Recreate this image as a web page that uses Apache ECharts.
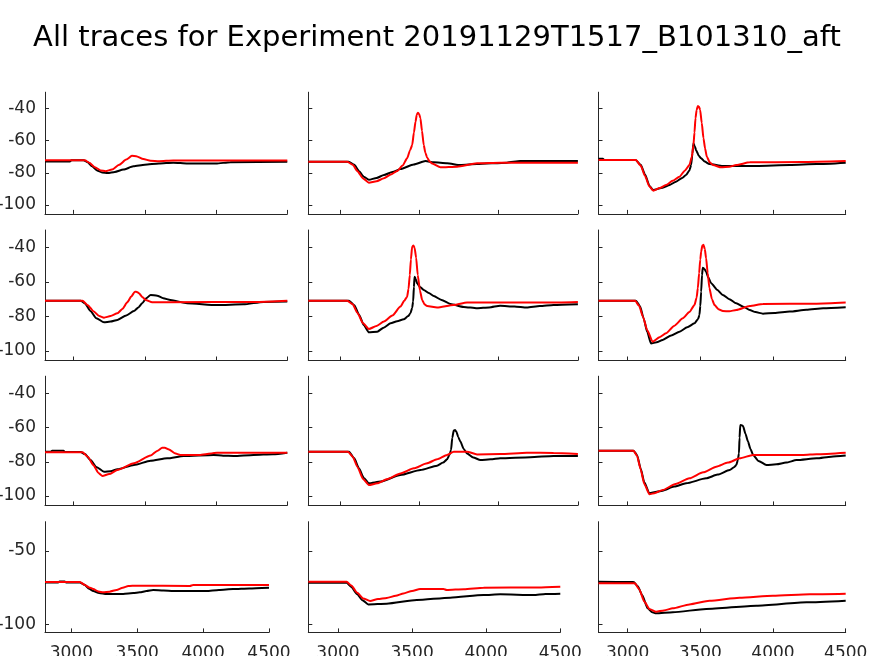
<!DOCTYPE html>
<html>
<head>
<meta charset="utf-8">
<script src="https://cdn.jsdelivr.net/npm/echarts@6/dist/echarts.min.js"></script>
<style>
html,body{margin:0;padding:0;background:#fff;}
#chart{width:874px;height:656px;}
</style>
</head>
<body>
<div id="chart"></div>
<script>
const titleText = 'All traces for Experiment 20191129T1517_B101310_aft';
const xTicks = [3000, 3500, 4000, 4500];
const yTicks = [-100, -80, -60, -40];
const yTicksLast = [-100, -50];

// Row 1
const r1c1Black = [[2800,-73],[2975,-73],[2985,-72.2],[3070,-72.2],[3100,-73.5],[3130,-76],[3165,-78.5],[3200,-79.8],[3240,-80.2],[3290,-79.5],[3350,-78],[3420,-76],[3500,-75],[3600,-74.2],[3700,-73.7],[3800,-74.2],[4000,-74.3],[4100,-73.4],[4500,-73.2]];
const r1c1Red = [[2800,-72.2],[3080,-72.2],[3110,-73.8],[3150,-76.5],[3190,-78.5],[3225,-79],[3270,-78],[3320,-75],[3370,-71.8],[3410,-69.5],[3440,-69.7],[3490,-71.5],[3540,-72.5],[3600,-72.8],[3700,-72.4],[4500,-72.3]];
const r1c2Black = [[2800,-73.1],[3055,-73.1],[3090,-75],[3120,-79],[3150,-82.5],[3182,-84.3],[3230,-83.2],[3277,-81.4],[3330,-79.5],[3381,-77.7],[3465,-74.8],[3539,-72.7],[3591,-73.5],[3675,-74.1],[3759,-75.2],[3864,-74.6],[4052,-73.7],[4136,-72.7],[4500,-72.7]];
const r1c2Red = [[2800,-73.1],[3046,-73.1],[3080,-75],[3110,-79],[3145,-83.5],[3182,-86.1],[3230,-85.2],[3277,-83.4],[3320,-81],[3360,-78.9],[3395,-75.5],[3423,-71],[3442,-66],[3455,-62.8],[3466,-55],[3476,-48.3],[3484,-44],[3491,-42.7],[3499,-43.5],[3507,-46.2],[3517,-54],[3528,-62.8],[3538,-67.5],[3549,-70.5],[3565,-73],[3581,-74.3],[3633,-76.6],[3738,-76.2],[3864,-74.1],[4010,-73.7],[4500,-73.7]];
const r1c3Black = [[2800,-71.3],[2830,-71.3],[2840,-72.1],[3055,-72.1],[3090,-75],[3120,-81],[3150,-88],[3175,-90.7],[3241,-89.2],[3290,-87.5],[3333,-85.5],[3375,-83.2],[3402,-81.4],[3425,-78.5],[3437,-75.2],[3446,-68],[3453,-61.7],[3462,-63.5],[3471,-65.9],[3490,-69.5],[3506,-71],[3530,-73],[3563,-74.6],[3655,-75.8],[3886,-75.8],[4115,-75.2],[4300,-74.6],[4500,-73.7]];
const r1c3Red = [[2800,-72.1],[3057,-72.1],[3090,-75.5],[3120,-82],[3150,-88.5],[3177,-91.1],[3220,-89.5],[3264,-87.6],[3310,-85],[3357,-82.4],[3395,-78.5],[3425,-75.2],[3442,-70],[3453,-62.8],[3460,-55],[3467,-46.2],[3475,-41],[3483,-38.6],[3491,-39],[3499,-41],[3510,-49],[3522,-58.6],[3533,-65],[3545,-70],[3565,-73.5],[3587,-75.2],[3644,-76.6],[3700,-76.2],[3747,-75.2],[3840,-73.5],[4200,-73.3],[4500,-72.7]];

// Row 2
const r2c1Black = [[2800,-70.9],[3051,-70.9],[3080,-72.5],[3120,-77],[3160,-81],[3214,-83.4],[3260,-83],[3308,-82],[3370,-79.5],[3424,-76.9],[3455,-74.8],[3482,-72.4],[3510,-69.5],[3541,-67.6],[3587,-68],[3630,-69.5],[3680,-70.5],[3797,-72.4],[4007,-73.4],[4193,-73],[4333,-71.6],[4500,-71.4]];
const r2c1Red = [[2800,-71],[3063,-71],[3100,-73.5],[3140,-77],[3180,-79.8],[3214,-80.7],[3260,-79.8],[3308,-78.2],[3345,-75.5],[3377,-71.8],[3405,-68.5],[3431,-65.7],[3445,-65.8],[3459,-66.6],[3483,-68.8],[3506,-70.5],[3552,-71.8],[3657,-71.8],[4300,-71.6],[4500,-71]];
const r2c2Black = [[2800,-70.9],[3057,-70.9],[3090,-73.5],[3120,-79],[3150,-85],[3182,-89.2],[3235,-88.8],[3275,-86.5],[3319,-84],[3360,-82.8],[3402,-81.7],[3430,-79.8],[3444,-78.2],[3455,-75],[3461,-71.4],[3466,-63],[3470,-57],[3478,-58.5],[3486,-60.8],[3505,-63],[3528,-64.7],[3560,-66.5],[3591,-68.2],[3640,-70.5],[3696,-72.8],[3780,-74.5],[3864,-75.3],[3940,-74.8],[4010,-73.8],[4100,-74.3],[4178,-74.9],[4260,-74],[4346,-73.4],[4500,-73]];
const r2c2Red = [[2800,-70.9],[3046,-70.9],[3080,-73],[3110,-78],[3145,-84],[3182,-87.3],[3230,-85.5],[3277,-83],[3330,-79.5],[3381,-74.3],[3405,-71],[3423,-68.6],[3432,-64],[3440,-56],[3447,-47],[3455,-39.5],[3463,-39],[3470,-40.2],[3480,-46],[3490,-56],[3504,-65],[3518,-70.5],[3533,-73],[3549,-74],[3612,-74.9],[3717,-73.4],[3801,-72],[4300,-72],[4500,-71.6]];
const r2c3Black = [[2800,-70.9],[3057,-70.9],[3085,-74],[3110,-81],[3135,-89],[3161,-95.6],[3200,-95],[3241,-93.6],[3300,-91],[3357,-88.8],[3410,-86.3],[3460,-84],[3485,-81.5],[3494,-79.2],[3500,-74],[3506,-65.7],[3512,-56],[3517,-51.8],[3528,-52.5],[3540,-54.1],[3555,-57.5],[3575,-60.8],[3615,-64.5],[3655,-67.6],[3700,-70],[3747,-72.4],[3800,-74.5],[3840,-76.3],[3880,-77.5],[3931,-78.4],[4010,-78],[4115,-77.2],[4230,-76.2],[4345,-75.3],[4500,-74.7]];
const r2c3Red = [[2800,-70.9],[3052,-70.9],[3080,-74],[3105,-80],[3135,-88],[3172,-94.6],[3220,-92],[3264,-89.8],[3320,-85.5],[3380,-81.1],[3425,-77.5],[3460,-73.4],[3475,-69],[3483,-63.7],[3492,-55],[3500,-47],[3506,-42.5],[3514,-39],[3522,-38.6],[3531,-41],[3540,-46.4],[3551,-55],[3563,-63.7],[3580,-70],[3598,-73.4],[3625,-75.8],[3655,-76.9],[3700,-77],[3747,-76.3],[3840,-74],[3931,-72.8],[4300,-72.6],[4500,-72]];

// Row 3
const r3c1Black = [[2800,-74.1],[2840,-74.1],[2850,-73.5],[2930,-73.5],[2940,-74.3],[3050,-74.3],[3080,-75.5],[3120,-79],[3160,-83],[3214,-85.8],[3260,-85.5],[3308,-84.4],[3424,-81.9],[3541,-79.4],[3657,-78],[3774,-76.6],[3983,-76],[4050,-76.5],[4123,-76.6],[4263,-76],[4400,-75.6],[4500,-74.7]];
const r3c1Red = [[2800,-74.5],[3063,-74.5],[3100,-77],[3140,-82],[3175,-86.5],[3203,-88.3],[3250,-87.2],[3308,-84.8],[3424,-80.9],[3541,-76.4],[3590,-73.5],[3622,-71.8],[3640,-71.8],[3670,-72.8],[3710,-75],[3750,-76],[3890,-76],[4007,-74.7],[4240,-74.7],[4500,-74.7]];
const r3c2Black = [[2800,-74.1],[3057,-74.1],[3090,-78],[3120,-84],[3150,-89.5],[3182,-92.6],[3256,-91.6],[3381,-87.7],[3507,-84.8],[3612,-82.3],[3650,-80.5],[3675,-78.6],[3690,-76],[3700,-73.1],[3708,-66],[3717,-61.8],[3725,-61.5],[3734,-62.4],[3745,-65.5],[3759,-68.2],[3780,-72.5],[3801,-75.1],[3840,-77.5],[3885,-79],[3950,-78.6],[4010,-78],[4200,-77.3],[4346,-76.6],[4500,-76.6]];
const r3c2Red = [[2800,-74.1],[3050,-74.1],[3080,-77],[3110,-83],[3145,-90],[3182,-93.6],[3235,-92.6],[3300,-90],[3381,-86.8],[3465,-83.8],[3549,-80.9],[3612,-78.5],[3675,-76],[3717,-74.1],[3801,-74.1],[3864,-75.7],[4010,-75.5],[4178,-74.7],[4346,-74.9],[4500,-75.5]];
const r3c3Black = [[2800,-73.5],[3041,-73.5],[3065,-76],[3090,-84],[3115,-92],[3150,-98.4],[3200,-97.5],[3241,-96.9],[3320,-94.5],[3402,-92.6],[3540,-89.7],[3620,-87.5],[3702,-84.8],[3735,-83],[3748,-81.9],[3758,-79],[3766,-75.1],[3770,-66],[3775,-58.5],[3785,-58.7],[3794,-59.1],[3810,-63.5],[3828,-68.2],[3845,-72.5],[3863,-76],[3900,-79.5],[3955,-81.9],[4024,-81.5],[4090,-80.5],[4162,-79],[4300,-78],[4400,-77],[4500,-76.4]];
const r3c3Red = [[2800,-73.5],[3041,-73.5],[3065,-76.5],[3090,-84.5],[3115,-93],[3150,-99],[3190,-98.2],[3241,-96.5],[3330,-93],[3425,-89.7],[3520,-86.2],[3610,-82.9],[3690,-80.5],[3771,-78],[3863,-76],[4208,-76],[4300,-75.6],[4500,-74.7]];

// Row 4
const r4c1Black = [[2800,-71.4],[2900,-71.4],[2910,-70.8],[2950,-70.8],[2960,-71.4],[3065,-71.4],[3100,-73],[3135,-75.8],[3166,-77.3],[3210,-78.6],[3267,-79.3],[3394,-79.3],[3470,-78.7],[3520,-78.2],[3570,-77.3],[3621,-76.6],[3700,-77],[3773,-77.3],[4025,-77.3],[4120,-76.5],[4227,-75.9],[4350,-75.5],[4500,-75]];
const r4c1Red = [[2800,-71.2],[3065,-71.2],[3100,-73],[3135,-74.8],[3166,-75.9],[3205,-77.6],[3242,-78.2],[3290,-77.7],[3343,-76.6],[3390,-75],[3432,-73.9],[3495,-73.6],[3899,-73.9],[3924,-73.2],[4500,-73.2]];
const r4c2Black = [[2800,-71.6],[3059,-71.6],[3090,-74.5],[3130,-79.5],[3165,-83.5],[3205,-86.4],[3329,-85.9],[3532,-83.4],[3757,-81.8],[3982,-80],[4095,-79.5],[4320,-80],[4400,-79.3],[4500,-79.1]];
const r4c2Red = [[2800,-70.9],[3059,-70.9],[3090,-73.5],[3130,-78.5],[3170,-82.3],[3217,-84.1],[3270,-82.8],[3329,-82],[3390,-80.5],[3442,-78.9],[3500,-77.2],[3554,-75.9],[3712,-75.9],[3734,-76.6],[3850,-76],[3982,-75],[4350,-74.8],[4500,-74.3]];
const r4c3Black = [[2800,-71],[3041,-71.2],[3070,-74],[3100,-80],[3138,-89.1],[3170,-91.8],[3196,-92.5],[3311,-91.8],[3541,-89.5],[3886,-87.3],[4231,-85],[4500,-83.9]];
const r4c3Red = [[2800,-72],[3050,-72],[3080,-76],[3115,-84.5],[3150,-89.5],[3196,-91.4],[3250,-90.5],[3311,-89.1],[3425,-86.4],[3564,-83.9],[3770,-81.8],[4000,-80.5],[4253,-79.5],[4500,-79.1]];

const panels = [
  [r1c1Black, r1c1Red], [r1c2Black, r1c2Red], [r1c3Black, r1c3Red],
  [r2c1Black, r2c1Red], [r2c2Black, r2c2Red], [r2c3Black, r2c3Red],
  [r3c1Black, r3c1Red], [r3c2Black, r3c2Red], [r3c3Black, r3c3Red],
  [r4c1Black, r4c1Red], [r4c2Black, r4c2Red], [r4c3Black, r4c3Red]
];

// layout (pixels)
const rowBoxes = [
  {top: 92.2, height: 121.7},
  {top: 230, height: 130.5},
  {top: 376.2, height: 129.2},
  {top: 521.7, height: 110.7}
];
const colBoxes = [
  {left: 45, width: 242.3},
  {left: 308.3, width: 269.6},
  {left: 598.5, width: 247.2}
];
const colBoxesLast = [
  {left: 45, width: 224},
  {left: 308.3, width: 252},
  {left: 598.5, width: 247.2}
];

const axisColor = '#262626';
const font = 'DejaVu Sans';
const grids = [], xAxes = [], yAxes = [], series = [];
panels.forEach((p, i) => {
  const r = Math.floor(i / 3), c = i % 3;
  const cb = (r === 3 ? colBoxesLast : colBoxes)[c];
  const rb = rowBoxes[r];
  grids.push({left: cb.left, width: cb.width, top: rb.top, height: rb.height,
    containLabel: false, outerBoundsMode: 'none'});
  xAxes.push({
    gridIndex: i, type: 'value', min: 2800, max: 4500,
    axisLine: {show: true, onZero: false, lineStyle: {color: axisColor, width: 1}},
    axisTick: {show: true, inside: true, length: 4, customValues: xTicks, lineStyle: {color: axisColor, width: 1}},
    axisLabel: {show: r === 3, customValues: xTicks, margin: 13, fontSize: 17, color: axisColor, fontFamily: font,
      formatter: v => String(v)},
    splitLine: {show: false}
  });
  const yt = r === 3 ? yTicksLast : yTicks;
  yAxes.push({
    gridIndex: i, type: 'value', min: -105.5, max: -30,
    axisLine: {show: true, onZero: false, lineStyle: {color: axisColor, width: 1}},
    axisTick: {show: true, inside: true, length: 4, customValues: yt, lineStyle: {color: axisColor, width: 1}},
    axisLabel: {show: c === 0, customValues: yt, margin: 9, fontSize: 17, color: axisColor, fontFamily: font,
      formatter: v => String(v)},
    splitLine: {show: false}
  });
  series.push({
    type: 'line', xAxisIndex: i, yAxisIndex: i, data: p[0], showSymbol: false,
    smooth: 0.2, smoothMonotone: 'x', lineStyle: {color: '#000000', width: 2}, z: 2
  });
  series.push({
    type: 'line', xAxisIndex: i, yAxisIndex: i, data: p[1], showSymbol: false,
    smooth: 0.2, smoothMonotone: 'x', lineStyle: {color: '#ff0000', width: 2}, z: 3
  });
});

const chart = echarts.init(document.getElementById('chart'), null, {renderer: 'canvas'});
chart.setOption({
  animation: false,
  backgroundColor: '#ffffff',
  title: {text: titleText, left: 'center', top: 19,
    textStyle: {fontSize: 29, fontWeight: 'normal', color: '#000000', fontFamily: font}},
  grid: grids, xAxis: xAxes, yAxis: yAxes, series: series
});
</script>
</body>
</html>
